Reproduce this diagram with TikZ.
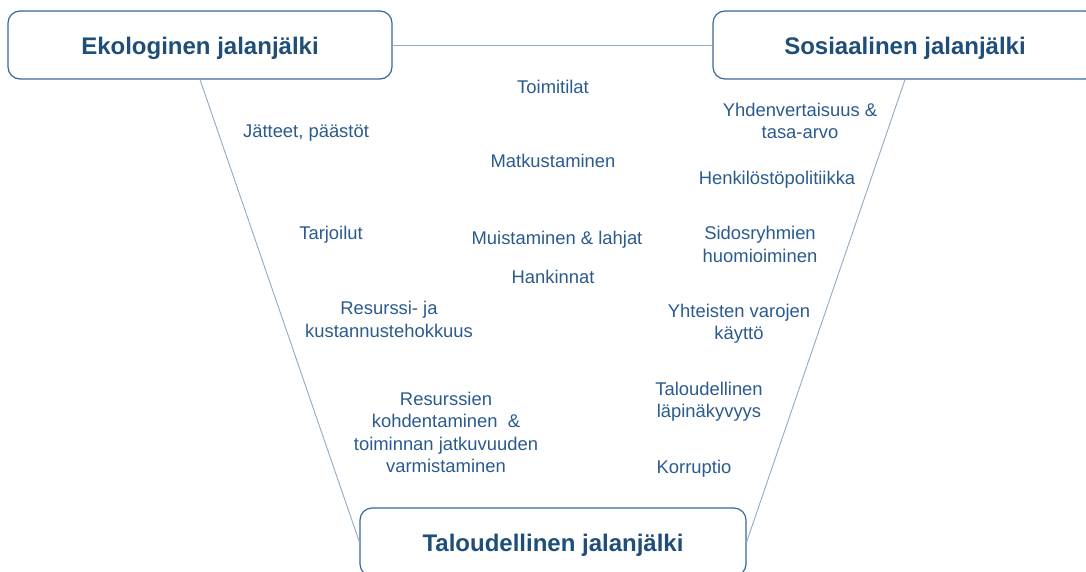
\documentclass[tikz,border=0pt]{standalone}
\usepackage{fontspec}
\setmainfont{Liberation Sans}
\usepackage{tikz}

\definecolor{headblue}{HTML}{1F4E79}
\definecolor{itemblue}{HTML}{2A5A8E}
\definecolor{lineblue}{HTML}{8FAAC8}
\definecolor{boxblue}{HTML}{3A6796}

\tikzset{
	footbox/.style={shape=rectangle,rounded corners=12pt,draw=boxblue,line width=1.2pt,fill=white,
		minimum width=384pt,minimum height=68pt,inner sep=0pt,text=headblue,
		text height=22pt,text depth=3pt,
		font=\fontsize{24}{28}\selectfont\bfseries},
	item/.style={align=center,text=itemblue,inner sep=0pt,font=\fontsize{18.4}{22.5}\selectfont},
	link/.style={draw=lineblue,line width=0.9pt}
}

\begin{document}
\begin{tikzpicture}[x=1pt,y=-1pt]
	\useasboundingbox (0,0) rectangle (1086,572);
	\node[footbox] (eko)  at (200, 45)  {Ekologinen jalanjälki};
	\node[footbox] (sos)  at (905, 45)  {Sosiaalinen jalanjälki};
	\node[footbox, minimum width=386pt] (talo) at (553, 542) {Taloudellinen jalanjälki};
	\path[link] (eko.east) -- (sos.west);
	\path[link] (eko.south) -- (talo.west);
	\path[link] (sos.south) -- (talo.east);
	\node[item] (toimitilat) at (553, 87)   {Toimitilat};
	\node[item] (jatteet)    at (306, 133)  {Jätteet, päästöt};
	\node[item] (yhdenv)     at (800, 121)  {Yhdenvertaisuus \&\\tasa-arvo};
	\node[item] (matkust)    at (553, 161)  {Matkustaminen};
	\node[item] (henkilo)    at (777, 180)  {Henkilöstöpolitiikka};
	\node[item] (tarjoilut)  at (331, 235)  {Tarjoilut};
	\node[item] (muistam)    at (557, 239.5) {Muistaminen \& lahjat};
	\node[item] (sidos)      at (760, 244.5) {Sidosryhmien\\huomioiminen};
	\node[item] (hankinnat)  at (553, 277)  {Hankinnat};
	\node[item] (resurssi)   at (389, 319.5) {Resurssi- ja\\kustannustehokkuus};
	\node[item] (yhteiset)   at (739, 323.5) {Yhteisten varojen\\käyttö};
	\node[item] (kohdent)    at (446, 432.5) {Resurssien\\kohdentaminen\ \ \&\\toiminnan jatkuvuuden\\varmistaminen};
	\node[item] (lapinak)    at (709, 401.5) {Taloudellinen\\läpinäkyvyys};
	\node[item] (korruptio)  at (694, 469)  {Korruptio};
\end{tikzpicture}
\end{document}
